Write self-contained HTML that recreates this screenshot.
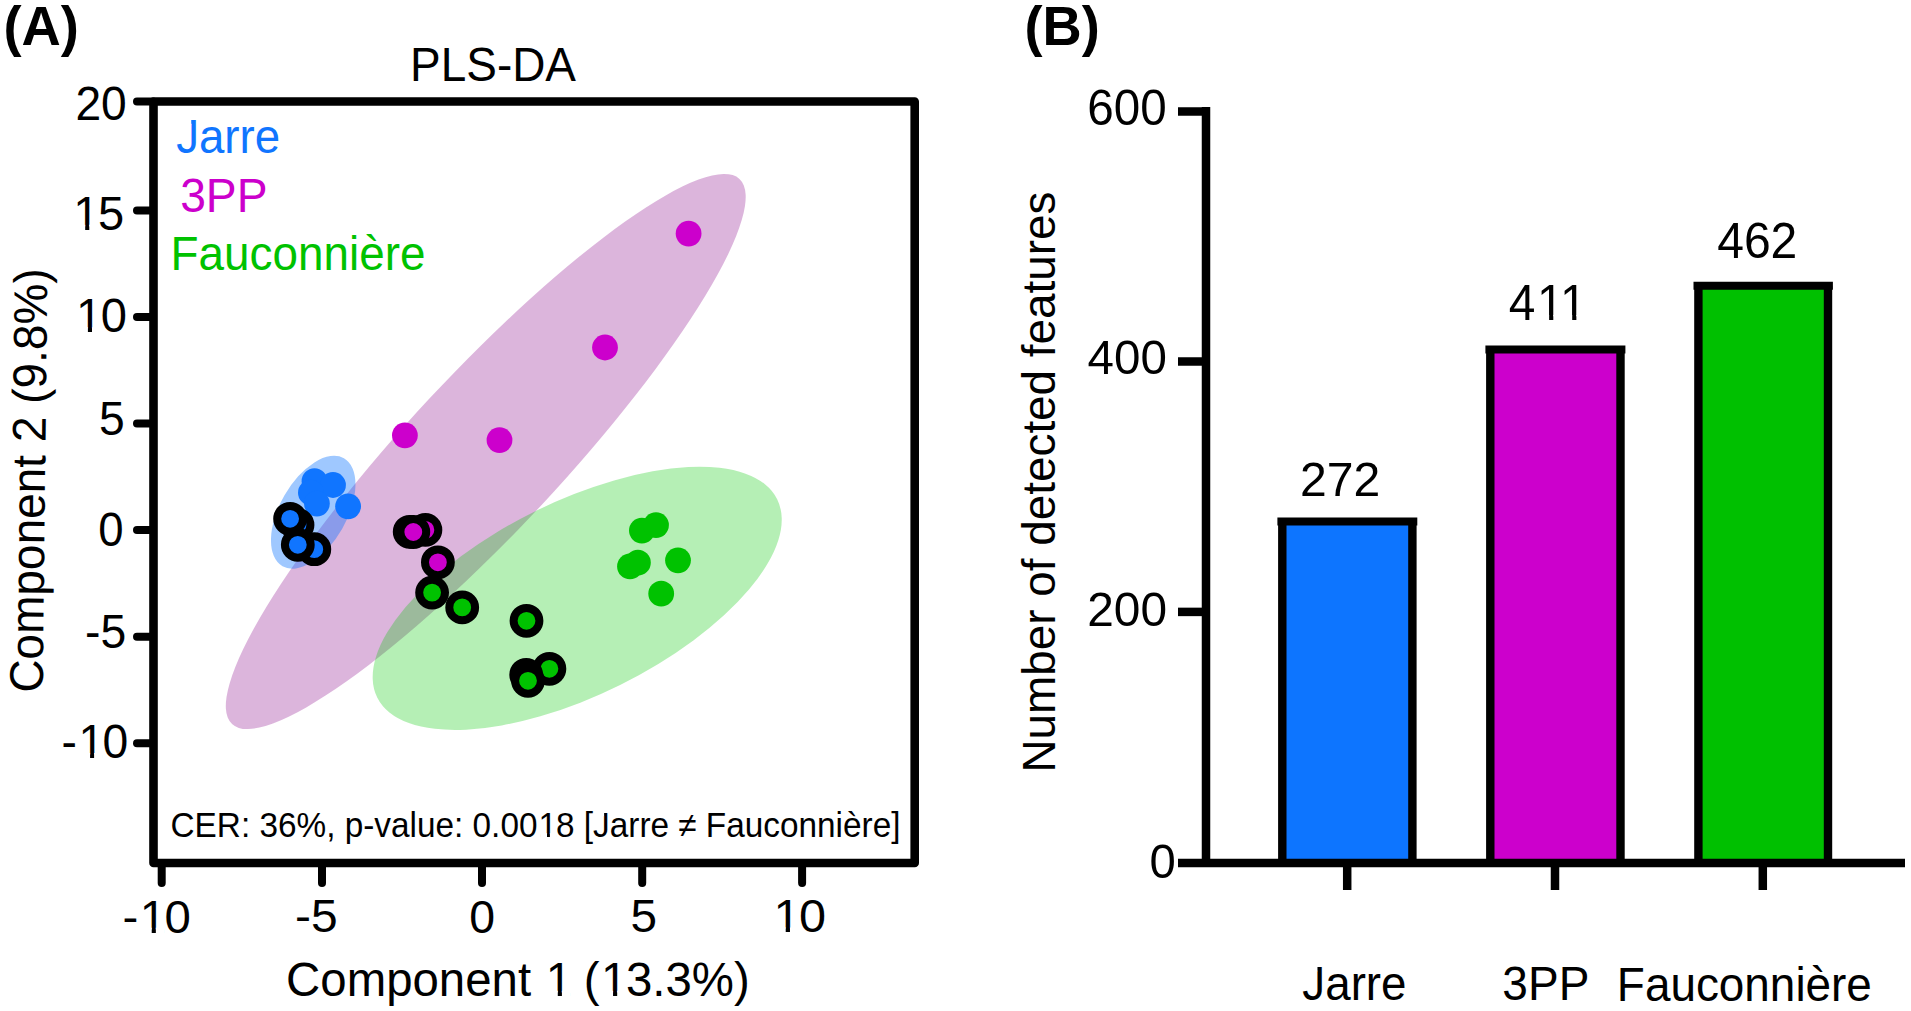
<!DOCTYPE html>
<html><head><meta charset="utf-8"><title>PLS-DA and detected features</title>
<style>
html,body{margin:0;padding:0;background:#fff;}
body{width:1911px;height:1011px;overflow:hidden;}
svg{display:block;}
text{font-family:"Liberation Sans",Arial,Helvetica,sans-serif;}
</style></head><body>
<svg width="1911" height="1011" viewBox="0 0 1911 1011">
<defs><clipPath id="c2" clipPathUnits="userSpaceOnUse"><path clip-rule="evenodd" d="M-2000 -2000H4000V2000H-2000ZM6.44 -34.50H15.23V-27.51H6.44Z"/></clipPath><clipPath id="c5" clipPathUnits="userSpaceOnUse"><path clip-rule="evenodd" d="M-2000 -2000H4000V2000H-2000ZM427.85 -25.05H434.23V-19.97H427.85ZM370.24 -3.51H377.01V1.67H370.24ZM379.92 -3.51H386.27V1.67H379.92Z"/></clipPath><clipPath id="c7" clipPathUnits="userSpaceOnUse"><path clip-rule="evenodd" d="M-2000 -2000H4000V2000H-2000ZM3.80 -4.83H13.12V2.30H3.80ZM17.13 -4.83H25.88V2.30H17.13Z"/></clipPath><clipPath id="c8" clipPathUnits="userSpaceOnUse"><path clip-rule="evenodd" d="M-2000 -2000H4000V2000H-2000ZM3.80 -4.83H13.12V2.30H3.80ZM17.13 -4.83H25.88V2.30H17.13Z"/></clipPath><clipPath id="c12" clipPathUnits="userSpaceOnUse"><path clip-rule="evenodd" d="M-2000 -2000H4000V2000H-2000ZM19.11 -4.83H28.44V2.30H19.11ZM32.44 -4.83H41.19V2.30H32.44Z"/></clipPath><clipPath id="c13" clipPathUnits="userSpaceOnUse"><path clip-rule="evenodd" d="M-2000 -2000H4000V2000H-2000ZM19.11 -4.83H28.44V2.30H19.11ZM32.44 -4.83H41.19V2.30H32.44Z"/></clipPath><clipPath id="c17" clipPathUnits="userSpaceOnUse"><path clip-rule="evenodd" d="M-2000 -2000H4000V2000H-2000ZM3.80 -4.83H13.12V2.30H3.80ZM17.13 -4.83H25.88V2.30H17.13Z"/></clipPath><clipPath id="c18" clipPathUnits="userSpaceOnUse"><path clip-rule="evenodd" d="M-2000 -2000H4000V2000H-2000ZM262.08 -4.98H271.70V2.37H262.08ZM275.82 -4.98H284.83V2.37H275.82ZM317.38 -4.98H326.99V2.37H317.38ZM331.12 -4.98H340.13V2.37H331.12Z"/></clipPath><clipPath id="c25" clipPathUnits="userSpaceOnUse"><path clip-rule="evenodd" d="M-2000 -2000H4000V2000H-2000ZM29.37 -4.83H38.70V2.30H29.37ZM42.70 -4.83H51.45V2.30H42.70ZM51.54 -4.83H60.87V2.30H51.54ZM64.88 -4.83H73.62V2.30H64.88Z"/></clipPath><clipPath id="c27" clipPathUnits="userSpaceOnUse"><path clip-rule="evenodd" d="M-2000 -2000H4000V2000H-2000ZM6.44 -34.50H15.23V-27.51H6.44Z"/></clipPath></defs>
<rect width="1911" height="1011" fill="#fff"/>
<!-- Panel A: PLS-DA score plot -->
<ellipse cx="485.75" cy="451.51" rx="372.37" ry="77.29" transform="rotate(-47.05 485.75 451.51)" fill="#880088" fill-opacity="0.29"/>
<ellipse cx="577.2" cy="598.34" rx="223.19" ry="96.67" transform="rotate(-26.36 577.2 598.34)" fill="#00c800" fill-opacity="0.29"/>
<ellipse cx="313.22" cy="512.27" rx="62.08" ry="33.36" transform="rotate(-60.34 313.22 512.27)" fill="#1075ff" fill-opacity="0.4"/>
<circle cx="688.6" cy="233.6" r="12.9" fill="#cc00cc"/>
<circle cx="605" cy="347.5" r="12.9" fill="#cc00cc"/>
<circle cx="404.9" cy="435.3" r="12.9" fill="#cc00cc"/>
<circle cx="499.5" cy="440.1" r="12.9" fill="#cc00cc"/>
<circle cx="314.5" cy="481.2" r="12.9" fill="#1075ff"/>
<circle cx="333" cy="485" r="12.9" fill="#1075ff"/>
<circle cx="310.9" cy="492.7" r="12.9" fill="#1075ff"/>
<circle cx="316.9" cy="503.6" r="12.9" fill="#1075ff"/>
<circle cx="348.1" cy="506.3" r="12.9" fill="#1075ff"/>
<circle cx="641.9" cy="530.6" r="12.9" fill="#00c200"/>
<circle cx="656" cy="525.1" r="12.9" fill="#00c200"/>
<circle cx="630" cy="566.4" r="12.9" fill="#00c200"/>
<circle cx="637.9" cy="562.7" r="12.9" fill="#00c200"/>
<circle cx="678" cy="560.3" r="12.9" fill="#00c200"/>
<circle cx="661.2" cy="593.7" r="12.9" fill="#00c200"/>
<g stroke="#000" stroke-width="8">
<circle cx="297.5" cy="525" r="12.9" fill="#1075ff"/>
<circle cx="290.1" cy="518.8" r="12.9" fill="#1075ff"/>
<circle cx="314.3" cy="549.2" r="12.9" fill="#1075ff"/>
<circle cx="297.8" cy="544.8" r="12.9" fill="#1075ff"/>
<circle cx="425.4" cy="529.9" r="12.9" fill="#cc00cc"/>
<circle cx="409.7" cy="531.8" r="12.9" fill="#cc00cc"/>
<circle cx="413.3" cy="532" r="12.9" fill="#cc00cc"/>
<circle cx="437.9" cy="562.3" r="12.9" fill="#cc00cc"/>
<circle cx="432.1" cy="592.6" r="12.9" fill="#00c200"/>
<circle cx="462.2" cy="607.4" r="12.9" fill="#00c200"/>
<circle cx="526.5" cy="620.8" r="12.9" fill="#00c200"/>
<circle cx="549.4" cy="668.8" r="12.9" fill="#00c200"/>
<circle cx="526.2" cy="674.8" r="12.9" fill="#00c200"/>
<circle cx="528" cy="680.8" r="12.9" fill="#00c200"/>
</g>
<rect x="153.5" y="101.5" width="761.2" height="761.5" fill="none" stroke="#000" stroke-width="8.6" stroke-linejoin="round"/>
<g stroke="#000" stroke-width="8" stroke-linecap="round">
<line x1="137" y1="101.5" x2="153" y2="101.5"/>
<line x1="137" y1="210.4" x2="153" y2="210.4"/>
<line x1="137" y1="317.1" x2="153" y2="317.1"/>
<line x1="137" y1="423.6" x2="153" y2="423.6"/>
<line x1="137" y1="530.1" x2="153" y2="530.1"/>
<line x1="137" y1="636.8" x2="153" y2="636.8"/>
<line x1="137" y1="743.3" x2="153" y2="743.3"/>
<line x1="161.7" y1="864" x2="161.7" y2="883"/>
<line x1="322" y1="864" x2="322" y2="883"/>
<line x1="482" y1="864" x2="482" y2="883"/>
<line x1="642.2" y1="864" x2="642.2" y2="883"/>
<line x1="802.1" y1="864" x2="802.1" y2="883"/>
</g>
<text transform="translate(45.00 480.70) rotate(-89.36) scale(1 1.03)" font-size="46" text-anchor="middle">Component 2 (9.8%)</text>
<!-- Panel B: bar chart -->
<g stroke="#000" stroke-width="8.5">
<rect x="1282.3" y="521.4" width="130.10" height="341.60" fill="#0d75ff" stroke="none"/>
<path d="M1282.3 863V521.4M1412.4 863V521.4" stroke-width="8.4"/>
<path d="M1277.40 521.4H1417.30" stroke-width="8.0"/>
<rect x="1490.3" y="349.6" width="130.20" height="513.40" fill="#cc00cc" stroke="none"/>
<path d="M1490.3 863V349.6M1620.5 863V349.6" stroke-width="8.4"/>
<path d="M1485.40 349.6H1625.40" stroke-width="8.0"/>
<rect x="1698.4" y="285.85" width="129.60" height="577.15" fill="#00c000" stroke="none"/>
<path d="M1698.4 863V285.85M1828.0 863V285.85" stroke-width="8.4"/>
<path d="M1693.50 285.85H1832.90" stroke-width="8.0"/>
<line x1="1206" y1="107" x2="1206" y2="867"/>
<line x1="1178" y1="862.9" x2="1905" y2="862.9"/>
<line x1="1178" y1="111.5" x2="1206" y2="111.5"/>
<line x1="1178" y1="361.5" x2="1206" y2="361.5"/>
<line x1="1178" y1="611.9" x2="1206" y2="611.9"/>
<line x1="1347.2" y1="863" x2="1347.2" y2="890"/>
<line x1="1555" y1="863" x2="1555" y2="890"/>
<line x1="1762.8" y1="863" x2="1762.8" y2="890"/>
</g>
<text transform="translate(1054.50 482.00) rotate(-90)" font-size="45.85" text-anchor="middle">Number of detected features</text>
<!-- labels -->
<text transform="matrix(1.0072 0 0 1.0149 3.43 45.48)" font-size="54" font-weight="bold">(A)</text>
<text transform="matrix(0.9991 0 0 1.0400 410.05 81.48)" font-size="46">PLS-DA</text>
<text transform="matrix(0.9922 0 0 1.0500 176.16 153.28)" font-size="46" fill="#1075ff" clip-path="url(#c2)">Jarre</text>
<text transform="matrix(1.0054 0 0 1.0338 180.14 211.58)" font-size="46" fill="#cc00cc">3PP</text>
<text transform="matrix(0.9972 0 0 1.0300 170.46 269.90)" font-size="46" fill="#00c200">Fauconnière</text>
<text transform="matrix(0.9985 0 0 1.0400 170.55 837.00)" font-size="33.4" clip-path="url(#c5)"><tspan x="0.00 24.11 46.38 70.48 79.77 89.05 107.61 126.19 155.88 165.16 174.42 193.00 204.12 220.81 239.39 246.80 265.38 283.94 293.22 302.50 321.06 330.34 348.92 368.57 386.06 404.62 413.91 423.17 439.88 458.44 469.56 480.69 499.25 508.53 526.86 536.14 556.53 575.09 593.67 610.36 628.94 647.50 666.08 673.50 692.06 703.19 721.75">CER: 36%, p-value: 0.0018 [Jarre ≠ Fauconnière]</tspan></text>
<text transform="matrix(1.0043 0 0 1.0277 75.44 120.29)" font-size="46">20</text>
<text transform="matrix(1.0243 0 0 1.0438 71.75 229.78)" font-size="46" clip-path="url(#c7)"><tspan x="1.50 25.58">15</tspan></text>
<text transform="matrix(1.0243 0 0 1.0431 74.45 332.28)" font-size="46" clip-path="url(#c8)"><tspan x="1.50 25.58">10</tspan></text>
<text transform="matrix(1.0069 0 0 1.0281 99.09 435.29)" font-size="46">5</text>
<text transform="matrix(0.9909 0 0 1.0338 98.37 545.98)" font-size="46">0</text>
<text transform="matrix(1.0081 0 0 1.0375 85.08 647.58)" font-size="46">-5</text>
<text transform="matrix(1.0056 0 0 1.0338 61.49 757.98)" font-size="46" clip-path="url(#c12)"><tspan x="0.00 16.81 40.89">-10</tspan></text>
<text transform="matrix(1.0295 0 0 1.0062 122.44 932.50)" font-size="46" clip-path="url(#c13)"><tspan x="0.00 16.81 40.89">-10</tspan></text>
<text transform="matrix(1.0432 0 0 0.9969 295.11 932.30)" font-size="46">-5</text>
<text transform="matrix(1.0091 0 0 1.0031 469.13 932.50)" font-size="46">0</text>
<text transform="matrix(1.0391 0 0 1.0000 630.52 932.30)" font-size="46">5</text>
<text transform="matrix(1.0566 0 0 1.0092 771.86 932.40)" font-size="46" clip-path="url(#c17)"><tspan x="1.50 25.58">10</tspan></text>
<text transform="matrix(0.9999 0 0 1.0000 286.10 995.80)" font-size="47.4" clip-path="url(#c18)"><tspan x="0.00 34.22 60.58 100.05 126.41 152.77 179.12 205.47 231.83 245.00 259.71 284.52 297.69 315.01 339.83 366.19 379.34 405.70 447.84">Component 1 (13.3%)</tspan></text>
<text transform="matrix(1.0043 0 0 1.0149 1024.44 45.48)" font-size="54" font-weight="bold">(B)</text>
<text transform="matrix(1.0351 0 0 1.0800 1087.37 125.46)" font-size="46">600</text>
<text transform="matrix(1.0338 0 0 1.0615 1087.57 374.17)" font-size="46">400</text>
<text transform="matrix(1.0405 0 0 1.0523 1087.26 625.77)" font-size="46">200</text>
<text transform="matrix(1.0273 0 0 1.0646 1149.50 877.97)" font-size="46">0</text>
<text transform="matrix(1.0464 0 0 1.0625 1299.95 496.10)" font-size="46">272</text>
<text transform="matrix(1.0406 0 0 1.0921 1508.86 320.30)" font-size="46" clip-path="url(#c25)"><tspan x="0.00 27.07 49.24">411</tspan></text>
<text transform="matrix(1.0449 0 0 1.0677 1717.16 258.07)" font-size="46">462</text>
<text transform="matrix(0.9941 0 0 1.0437 1302.35 1000.08)" font-size="46" clip-path="url(#c27)">Jarre</text>
<text transform="matrix(1.0006 0 0 1.0400 1502.35 1000.18)" font-size="46">3PP</text>
<text transform="matrix(0.9976 0 0 1.0300 1616.86 1000.50)" font-size="46">Fauconnière</text>
</svg>
</body></html>
